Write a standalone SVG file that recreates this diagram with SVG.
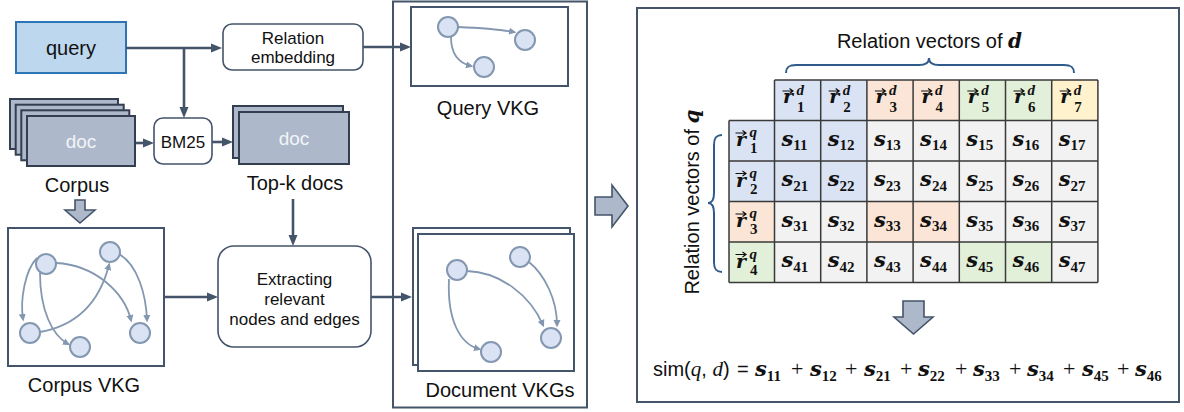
<svg xmlns="http://www.w3.org/2000/svg" xmlns:xlink="http://www.w3.org/1999/xlink" width="1184" height="412" viewBox="0 0 1184 412">
<style>
.box{fill:#fff;stroke:#44546a;stroke-width:2}
.frame{fill:none;stroke:#44546a;stroke-width:2}
.rbox{fill:#fff;stroke:#44546a;stroke-width:1.6}
.doc{fill:#adb9ca;stroke:#333f50;stroke-width:2}
.conn{fill:none;stroke:#44546a;stroke-width:2.6}
.edge{fill:none;stroke:#8497b0;stroke-width:1.8}
.gn{fill:#dae3f3;stroke:#8497b0;stroke-width:2}
.blk{fill:#adb9ca;stroke:#44546a;stroke-width:1.6;stroke-linejoin:miter}
.t{font-family:"Liberation Sans",Arial,sans-serif;fill:#111}
.lbl{font-size:20px}
.bt{font-size:17px}
.dt{font-family:"Liberation Sans",Arial,sans-serif;font-size:19px;fill:#f2f4f8}
.mb{font-family:"DejaVu Serif",serif;font-weight:bold;font-style:italic;fill:#111}
.s{font-size:21px}
.r{font-size:19px}
.sc{font-family:"Liberation Serif",serif;font-weight:bold;font-style:normal;font-size:15px;fill:#111}
.sci{font-family:"Liberation Serif",serif;font-weight:bold;font-style:italic;font-size:15px;fill:#111}
.mi{font-family:"Liberation Serif",serif;font-style:italic}
.op{font-family:"Liberation Serif",serif;font-size:22px;fill:#111}
.cb{fill:#dae3f3}.co{fill:#fbe5d6}.cg{fill:#e2f0d9}.cy{fill:#fff2cc}.cx{fill:#f2f2f2}
.grid{fill:none;stroke:#3a3a3a;stroke-width:1.5}
.vec{fill:none;stroke:#111;stroke-width:1.2}
.brace{fill:none;stroke:#2f5b8a;stroke-width:2}
</style>
<defs>
<marker id="ah" markerUnits="userSpaceOnUse" viewBox="0 0 12 10" markerWidth="12" markerHeight="10" refX="4" refY="5" orient="auto"><path d="M0,0.5 L11,5 L0,9.5 z" fill="#44546a"/></marker>
<marker id="eh" markerUnits="userSpaceOnUse" viewBox="0 0 8 8" markerWidth="8" markerHeight="8" refX="5" refY="4" orient="auto"><path d="M0,0.5 L7.5,4 L0,7.5 z" fill="#8497b0"/></marker>
<path id="va" d="M0,0 H10 M7,-2.6 L10.5,0 L7,2.6"/>
</defs>

<g id="query">
<rect x="16" y="22" width="110" height="51" fill="#bdd7ee" stroke="#2e75b6" stroke-width="2"/>
<text class="t lbl" x="71" y="55" text-anchor="middle">query</text>
</g>

<g id="relation-embedding">
<rect class="rbox" x="223" y="24" width="140" height="46" rx="9"/>
<text class="t bt" x="293" y="44" text-anchor="middle">Relation</text>
<text class="t bt" x="293" y="63" text-anchor="middle">embedding</text>
</g>

<g id="corpus">
<rect class="doc" x="10" y="99" width="108" height="50"/>
<rect class="doc" x="15.7" y="104.7" width="108" height="50"/>
<rect class="doc" x="21.3" y="110.3" width="108" height="50"/>
<rect class="doc" x="27" y="116" width="108" height="50"/>
<text class="dt" x="81" y="148" text-anchor="middle">doc</text>
<text class="t lbl" x="77" y="192" text-anchor="middle">Corpus</text>
</g>

<g id="bm25">
<rect class="rbox" x="154" y="118" width="58" height="46" rx="9"/>
<text class="t bt" x="183" y="148" text-anchor="middle">BM25</text>
</g>

<g id="topk-docs">
<rect class="doc" x="233" y="106" width="110" height="52"/>
<rect class="doc" x="239" y="112" width="110" height="52"/>
<text class="dt" x="294" y="145" text-anchor="middle">doc</text>
<text class="t lbl" x="295" y="190" text-anchor="middle">Top-k docs</text>
</g>

<g id="corpus-arrow">
<polygon class="blk" points="75,200 85,200 85,210 95,210 80,223 65,210 75,210"/>
</g>

<g id="corpus-vkg">
<rect class="box" x="8" y="228" width="156" height="138"/>
<path class="edge" d="M37,258 C25,270 20,300 23,319" marker-end="url(#eh)"/>
<path class="edge" d="M40,273 C40,310 52,335 68,344" marker-end="url(#eh)"/>
<path class="edge" d="M56,263 C95,265 124,292 131,320" marker-end="url(#eh)"/>
<path class="edge" d="M40,332 C80,325 100,300 109,265" marker-end="url(#eh)"/>
<path class="edge" d="M119,254 C138,265 146,295 147,320" marker-end="url(#eh)"/>
<circle class="gn" cx="46" cy="264" r="10"/>
<circle class="gn" cx="110" cy="252" r="10"/>
<circle class="gn" cx="30" cy="333" r="10"/>
<circle class="gn" cx="80" cy="347" r="10"/>
<circle class="gn" cx="140" cy="333" r="10"/>
<text class="t lbl" x="84" y="392" text-anchor="middle">Corpus VKG</text>
</g>

<g id="extracting">
<rect class="rbox" x="218" y="246" width="153" height="101" rx="16"/>
<text class="t bt" x="294.5" y="285" text-anchor="middle">Extracting</text>
<text class="t bt" x="294.5" y="305" text-anchor="middle">relevant</text>
<text class="t bt" x="294.5" y="325" text-anchor="middle">nodes and edges</text>
</g>

<g id="vkg-container">
<rect class="frame" x="393" y="1.5" width="194" height="406"/>
</g>

<g id="query-vkg">
<rect class="box" x="411" y="7" width="157" height="79"/>
<path class="edge" d="M458,27 C480,28 498,29 514,32" marker-end="url(#eh)"/>
<path class="edge" d="M451,37 C451,55 459,63 471,66" marker-end="url(#eh)"/>
<circle class="gn" cx="448" cy="27" r="10"/>
<circle class="gn" cx="525" cy="40" r="10"/>
<circle class="gn" cx="484" cy="67" r="10"/>
<text class="t lbl" x="488" y="115" text-anchor="middle">Query VKG</text>
</g>

<g id="document-vkgs">
<rect class="box" x="413" y="228" width="157" height="137"/>
<rect class="box" x="418" y="234" width="156" height="137"/>
<path class="edge" d="M449,279 C447,320 460,344 479,349" marker-end="url(#eh)"/>
<path class="edge" d="M467,271 C500,272 530,295 543,325" marker-end="url(#eh)"/>
<path class="edge" d="M529,262 C545,275 557,300 557,325" marker-end="url(#eh)"/>
<circle class="gn" cx="457" cy="270" r="10"/>
<circle class="gn" cx="520" cy="257" r="10"/>
<circle class="gn" cx="491" cy="352" r="10"/>
<circle class="gn" cx="551" cy="338" r="10"/>
<text class="t lbl" x="500" y="397" text-anchor="middle">Document VKGs</text>
</g>

<g id="connectors">
<path class="conn" d="M126,48 H215" marker-end="url(#ah)"/>
<path class="conn" d="M184,48 V111" marker-end="url(#ah)"/>
<path class="conn" d="M136,143 H147" marker-end="url(#ah)"/>
<path class="conn" d="M212,142 H226" marker-end="url(#ah)"/>
<path class="conn" d="M293,199 V239" marker-end="url(#ah)"/>
<path class="conn" d="M164,297 H211" marker-end="url(#ah)"/>
<path class="conn" d="M363,47 H404" marker-end="url(#ah)"/>
<path class="conn" d="M371,297 H405" marker-end="url(#ah)"/>
</g>

<g id="big-arrow">
<polygon class="blk" points="595,197 612,197 612,185 628,206 612,227 612,215 595,215"/>
</g>

<g id="similarity-panel">
<rect class="box" x="637" y="8" width="542" height="394"/>
<text class="t lbl" x="929.5" y="48" text-anchor="middle">Relation vectors of <tspan class="mb">d</tspan></text>
<path class="brace" d="M786,73 C786,67 789,65 796,65 L919,65 C925,65 929,63 929,58 C929,63 933,65 939,65 L1064,65 C1071,65 1074,67 1074,73"/>
<text class="t lbl" transform="translate(699,202) rotate(-90)" text-anchor="middle">Relation vectors of <tspan class="mb">q</tspan></text>
<path class="brace" d="M722,135 C716,135 714,138 714,145 L714,193 C714,199 712,203 708,203 C712,203 714,207 714,213 L714,262 C714,269 716,272 722,272"/>

<rect class="cb" x="774.5" y="80" width="46.2" height="40.5"/>
<rect class="cb" x="820.7" y="80" width="46.2" height="40.5"/>
<rect class="co" x="866.9" y="80" width="46.2" height="40.5"/>
<rect class="co" x="913.1" y="80" width="46.2" height="40.5"/>
<rect class="cg" x="959.3" y="80" width="46.2" height="40.5"/>
<rect class="cg" x="1005.5" y="80" width="46.2" height="40.5"/>
<rect class="cy" x="1051.7" y="80" width="46.2" height="40.5"/>
<rect class="cb" x="729" y="120.5" width="45.5" height="81"/>
<rect class="co" x="729" y="201.5" width="45.5" height="40.5"/>
<rect class="cg" x="729" y="242" width="45.5" height="40.5"/>
<rect class="cx" x="774.5" y="120.5" width="323.4" height="162"/>
<rect class="cb" x="774.5" y="120.5" width="92.4" height="81"/>
<rect class="co" x="866.9" y="201.5" width="92.4" height="40.5"/>
<rect class="cg" x="959.3" y="242" width="92.4" height="40.5"/>
<path class="grid" d="M774.5,80 H1097.9 M729,120.5 H1097.9 M729,161 H1097.9 M729,201.5 H1097.9 M729,242 H1097.9 M729,282.5 H1097.9 M729,120.5 V282.5 M774.5,80 V282.5 M820.7,80 V282.5 M866.9,80 V282.5 M913.1,80 V282.5 M959.3,80 V282.5 M1005.5,80 V282.5 M1051.7,80 V282.5 M1097.9,80 V282.5"/>

<g class="vec">
<use xlink:href="#va" x="782.5" y="91"/><use xlink:href="#va" x="828.7" y="91"/><use xlink:href="#va" x="874.9" y="91"/><use xlink:href="#va" x="921.1" y="91"/><use xlink:href="#va" x="967.3" y="91"/><use xlink:href="#va" x="1013.5" y="91"/><use xlink:href="#va" x="1059.7" y="91"/>
<use xlink:href="#va" x="735.5" y="133"/><use xlink:href="#va" x="735.5" y="173.5"/><use xlink:href="#va" x="735.5" y="214"/><use xlink:href="#va" x="735.5" y="254.5"/>
</g>
<text class="mb r" x="783" y="103">r</text><text class="sci" x="796.5" y="95">d</text><text class="sc" x="797" y="112">1</text>
<text class="mb r" x="829.2" y="103">r</text><text class="sci" x="842.7" y="95">d</text><text class="sc" x="843.2" y="112">2</text>
<text class="mb r" x="875.4" y="103">r</text><text class="sci" x="888.9" y="95">d</text><text class="sc" x="889.4" y="112">3</text>
<text class="mb r" x="921.6" y="103">r</text><text class="sci" x="935.1" y="95">d</text><text class="sc" x="935.6" y="112">4</text>
<text class="mb r" x="967.8" y="103">r</text><text class="sci" x="981.3" y="95">d</text><text class="sc" x="981.8" y="112">5</text>
<text class="mb r" x="1014" y="103">r</text><text class="sci" x="1027.5" y="95">d</text><text class="sc" x="1028" y="112">6</text>
<text class="mb r" x="1060.2" y="103">r</text><text class="sci" x="1073.7" y="95">d</text><text class="sc" x="1074.2" y="112">7</text>
<text class="mb r" x="736" y="146">r</text><text class="sci" x="749.5" y="137">q</text><text class="sc" x="750" y="153">1</text>
<text class="mb r" x="736" y="186.5">r</text><text class="sci" x="749.5" y="177.5">q</text><text class="sc" x="750" y="193.5">2</text>
<text class="mb r" x="736" y="227">r</text><text class="sci" x="749.5" y="218">q</text><text class="sc" x="750" y="234">3</text>
<text class="mb r" x="736" y="267.5">r</text><text class="sci" x="749.5" y="258.5">q</text><text class="sc" x="750" y="274.5">4</text>

<text class="mb s" x="781.5" y="145.5">s<tspan class="sc" dy="4.5">11</tspan></text>
<text class="mb s" x="827.7" y="145.5">s<tspan class="sc" dy="4.5">12</tspan></text>
<text class="mb s" x="873.9" y="145.5">s<tspan class="sc" dy="4.5">13</tspan></text>
<text class="mb s" x="920.1" y="145.5">s<tspan class="sc" dy="4.5">14</tspan></text>
<text class="mb s" x="966.3" y="145.5">s<tspan class="sc" dy="4.5">15</tspan></text>
<text class="mb s" x="1012.5" y="145.5">s<tspan class="sc" dy="4.5">16</tspan></text>
<text class="mb s" x="1058.7" y="145.5">s<tspan class="sc" dy="4.5">17</tspan></text>
<text class="mb s" x="781.5" y="186">s<tspan class="sc" dy="4.5">21</tspan></text>
<text class="mb s" x="827.7" y="186">s<tspan class="sc" dy="4.5">22</tspan></text>
<text class="mb s" x="873.9" y="186">s<tspan class="sc" dy="4.5">23</tspan></text>
<text class="mb s" x="920.1" y="186">s<tspan class="sc" dy="4.5">24</tspan></text>
<text class="mb s" x="966.3" y="186">s<tspan class="sc" dy="4.5">25</tspan></text>
<text class="mb s" x="1012.5" y="186">s<tspan class="sc" dy="4.5">26</tspan></text>
<text class="mb s" x="1058.7" y="186">s<tspan class="sc" dy="4.5">27</tspan></text>
<text class="mb s" x="781.5" y="226.5">s<tspan class="sc" dy="4.5">31</tspan></text>
<text class="mb s" x="827.7" y="226.5">s<tspan class="sc" dy="4.5">32</tspan></text>
<text class="mb s" x="873.9" y="226.5">s<tspan class="sc" dy="4.5">33</tspan></text>
<text class="mb s" x="920.1" y="226.5">s<tspan class="sc" dy="4.5">34</tspan></text>
<text class="mb s" x="966.3" y="226.5">s<tspan class="sc" dy="4.5">35</tspan></text>
<text class="mb s" x="1012.5" y="226.5">s<tspan class="sc" dy="4.5">36</tspan></text>
<text class="mb s" x="1058.7" y="226.5">s<tspan class="sc" dy="4.5">37</tspan></text>
<text class="mb s" x="781.5" y="267">s<tspan class="sc" dy="4.5">41</tspan></text>
<text class="mb s" x="827.7" y="267">s<tspan class="sc" dy="4.5">42</tspan></text>
<text class="mb s" x="873.9" y="267">s<tspan class="sc" dy="4.5">43</tspan></text>
<text class="mb s" x="920.1" y="267">s<tspan class="sc" dy="4.5">44</tspan></text>
<text class="mb s" x="966.3" y="267">s<tspan class="sc" dy="4.5">45</tspan></text>
<text class="mb s" x="1012.5" y="267">s<tspan class="sc" dy="4.5">46</tspan></text>
<text class="mb s" x="1058.7" y="267">s<tspan class="sc" dy="4.5">47</tspan></text>

<polygon class="blk" points="903,301 924,301 924,317 933,317 913.5,334 894,317 903,317"/>

<text class="t" x="653" y="376" font-size="20">sim(<tspan class="mi" font-size="21">q</tspan>, <tspan class="mi" font-size="21">d</tspan>)</text>
<text class="t" x="737" y="376" font-size="20">=</text>
<text class="mb s" x="755" y="376">s<tspan class="sc" dy="4.5">11</tspan></text>
<text class="op" x="791" y="376">+</text>
<text class="mb s" x="810" y="376">s<tspan class="sc" dy="4.5">12</tspan></text>
<text class="op" x="845" y="376">+</text>
<text class="mb s" x="864" y="376">s<tspan class="sc" dy="4.5">21</tspan></text>
<text class="op" x="900" y="376">+</text>
<text class="mb s" x="918" y="376">s<tspan class="sc" dy="4.5">22</tspan></text>
<text class="op" x="955" y="376">+</text>
<text class="mb s" x="973" y="376">s<tspan class="sc" dy="4.5">33</tspan></text>
<text class="op" x="1009" y="376">+</text>
<text class="mb s" x="1027" y="376">s<tspan class="sc" dy="4.5">34</tspan></text>
<text class="op" x="1063" y="376">+</text>
<text class="mb s" x="1082" y="376">s<tspan class="sc" dy="4.5">45</tspan></text>
<text class="op" x="1117" y="376">+</text>
<text class="mb s" x="1135" y="376">s<tspan class="sc" dy="4.5">46</tspan></text>
</g>
</svg>
